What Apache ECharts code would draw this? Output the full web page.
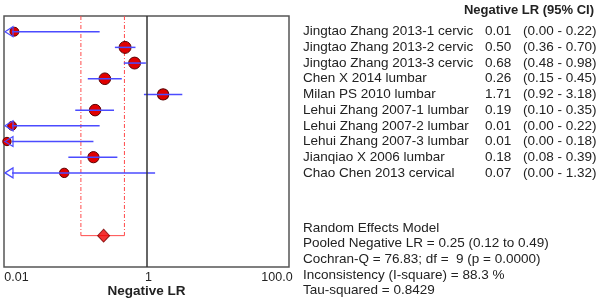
<!DOCTYPE html>
<html>
<head>
<meta charset="utf-8">
<script src="https://cdn.jsdelivr.net/npm/echarts@6/dist/echarts.min.js"></script>
<style>
html, body { margin: 0; padding: 0; background: #fff; }
#chart { width: 600px; height: 302px; }
</style>
</head>
<body>
<div id="chart"></div>
<script>
var studies = [
    'Jingtao Zhang 2013-1 cervic',
    'Jingtao Zhang 2013-2 cervic',
    'Jingtao Zhang 2013-3 cervic',
    'Chen X 2014 lumbar',
    'Milan PS 2010 lumbar',
    'Lehui Zhang 2007-1 lumbar',
    'Lehui Zhang 2007-2 lumbar',
    'Lehui Zhang 2007-3 lumbar',
    'Jianqiao X 2006 lumbar',
    'Chao Chen 2013 cervical'
];
var estimates = [0.014, 0.50, 0.68, 0.26, 1.71, 0.19, 0.013, 0.011, 0.18, 0.07];
var lower = [0.00, 0.36, 0.48, 0.15, 0.92, 0.10, 0.00, 0.00, 0.08, 0.00];
var upper = [0.22, 0.70, 0.98, 0.45, 3.18, 0.35, 0.22, 0.18, 0.39, 1.32];
var weights = [6.5, 12.5, 12.3, 11.8, 11.2, 11.6, 6.5, 5.5, 11.0, 7.5];
var pooled = [0.25, 0.12, 0.49];
var xTicks = { '-2': '0.01', '0': '1', '2': '100.0' };
var summaryLines = [
    'Random Effects Model',
    'Pooled Negative LR = 0.25 (0.12 to 0.49)',
    'Cochran-Q = 76.83; df =  9 (p = 0.0000)',
    'Inconsistency (I-square) = 88.3 %',
    'Tau-squared = 0.8429'
];

var xMin = 0.01, xMax = 100;
var pooledRow = 14;
var blue = '#4b4bff';
var red = '#ff4a4a';
var ink = '#222';
var font = 'Liberation Sans, Arial, sans-serif';
var fs = 13.5;

// row 0 = grid top, studies on rows 1..10, pooled on row 14, grid bottom row 16
var rows = [];
for (var i = 0; i <= 16; i++) rows.push('r' + i);

var dom = document.getElementById('chart');
var myChart = echarts.init(dom, null, { renderer: 'canvas' });

var pointData = estimates.map(function (v, i) { return [v, i + 1, weights[i]]; });
var ciData = estimates.map(function (v, i) { return [i + 1, lower[i], upper[i]]; });

function rowLabel(value, index) {
    var k = index - 1;
    if (k < 0 || k >= studies.length) return '';
    var ci = '(' + lower[k].toFixed(2) + ' - ' + upper[k].toFixed(2) + ')';
    return '{n|' + studies[k] + '}{v|' + estimates[k].toFixed(2) + '}{c|' + ci + '}';
}

function renderCI(params, api) {
    var row = api.value(0);
    var lo = api.value(1);
    var hi = api.value(2);
    var clipped = !(lo >= xMin);
    var p1 = api.coord([clipped ? xMin : lo, row]);
    var p2 = api.coord([hi, row]);
    var children = [{
        type: 'line',
        shape: { x1: p1[0] + (clipped ? 8 : 0), y1: p1[1], x2: p2[0], y2: p2[1] },
        style: { stroke: blue, lineWidth: 1.5 }
    }];
    if (clipped) {
        children.push({
            type: 'polygon',
            shape: { points: [[p1[0] + 1, p1[1]], [p1[0] + 9, p1[1] - 5], [p1[0] + 9, p1[1] + 5]] },
            style: { fill: 'rgba(255,255,255,0)', stroke: blue, lineWidth: 1.2 }
        });
    }
    return { type: 'group', children: children };
}

function renderPooled(params, api) {
    var row = api.value(0);
    var lo = api.coord([api.value(1), row]);
    var hi = api.coord([api.value(2), row]);
    var top = api.coord([api.value(1), 0]);
    var dash = { stroke: red, lineWidth: 1, lineDash: [4, 2, 1, 2] };
    return {
        type: 'group',
        children: [
            { type: 'line', shape: { x1: lo[0], y1: top[1], x2: lo[0], y2: lo[1] }, style: dash },
            { type: 'line', shape: { x1: hi[0], y1: top[1], x2: hi[0], y2: hi[1] }, style: dash },
            { type: 'line', shape: { x1: lo[0], y1: lo[1], x2: hi[0], y2: hi[1] }, style: { stroke: red, lineWidth: 1 } }
        ]
    };
}

var option = {
    animation: false,
    textStyle: { fontFamily: font },
    title: [
        {
            text: 'Negative LR (95% CI)',
            right: 6,
            top: 2,
            padding: 0,
            textStyle: { fontFamily: font, fontSize: 13, fontWeight: 'bold', color: ink, lineHeight: 16 }
        },
        {
            text: summaryLines.join('\n'),
            left: 303,
            top: 220,
            padding: 0,
            textStyle: { fontFamily: font, fontSize: fs, fontWeight: 'normal', color: ink, lineHeight: 15.7 }
        }
    ],
    grid: {
        show: true,
        left: 4,
        right: 311,
        top: 16,
        bottom: 35,
        borderColor: '#555',
        borderWidth: 1.5,
        containLabel: false,
        outerBoundsMode: 'none'
    },
    xAxis: {
        type: 'log',
        logBase: 10,
        min: xMin,
        max: xMax,
        axisLine: { show: false },
        axisTick: { show: false },
        splitLine: { show: false },
        axisLabel: {
            margin: 4,
            fontSize: 12.5,
            color: ink,
            formatter: function (v) {
                var e = Math.round(Math.log10(v));
                var t = xTicks[String(e)];
                if (!t) return '';
                if (e === -2) return '{l|' + t + '}';
                if (e === 2) return '{r|' + t + '}';
                return '{c|' + t + '}';
            },
            rich: {
                l: { fontSize: 12.5, color: ink, padding: [0, 0, 0, 25] },
                c: { fontSize: 12.5, color: ink, padding: [0, 0, 0, 4] },
                r: { fontSize: 12.5, color: ink, padding: [0, 24, 0, 0] }
            }
        },
        name: 'Negative LR',
        nameLocation: 'middle',
        nameGap: 17,
        nameMoveOverlap: false,
        nameTextStyle: { fontSize: 13.5, fontWeight: 'bold', color: ink }
    },
    yAxis: {
        type: 'category',
        data: rows,
        inverse: true,
        boundaryGap: false,
        position: 'right',
        axisLine: { show: false },
        axisTick: { show: false },
        splitLine: { show: false },
        axisLabel: {
            interval: 0,
            margin: 14,
            align: 'left',
            formatter: rowLabel,
            rich: {
                n: { fontSize: fs, color: ink, width: 182 },
                v: { fontSize: fs, color: ink, width: 38 },
                c: { fontSize: fs, color: ink }
            }
        }
    },
    series: [
        {
            type: 'scatter',
            data: pointData,
            symbol: 'circle',
            symbolSize: function (d) { return 5.5 + d[2] * 0.52; },
            itemStyle: { color: '#e00000', borderColor: '#5a0000', borderWidth: 1, opacity: 1 },
            z: 2,
            markLine: {
                silent: true,
                symbol: 'none',
                label: { show: false },
                lineStyle: { color: '#333', width: 1.5, type: 'solid' },
                data: [{ xAxis: 1 }]
            }
        },
        {
            type: 'custom',
            data: ciData,
            encode: { x: 2, y: 0 },
            renderItem: renderCI,
            z: 3
        },
        {
            type: 'custom',
            data: [[pooledRow, pooled[1], pooled[2]]],
            encode: { x: 2, y: 0 },
            renderItem: renderPooled,
            z: 1
        },
        {
            type: 'scatter',
            data: [[pooled[0], pooledRow]],
            symbol: 'diamond',
            symbolSize: [12, 13],
            itemStyle: { color: '#ee0000', borderColor: '#7a0000', borderWidth: 1 },
            z: 4
        }
    ]
};

myChart.setOption(option);
window.addEventListener('resize', myChart.resize);
</script>
</body>
</html>
